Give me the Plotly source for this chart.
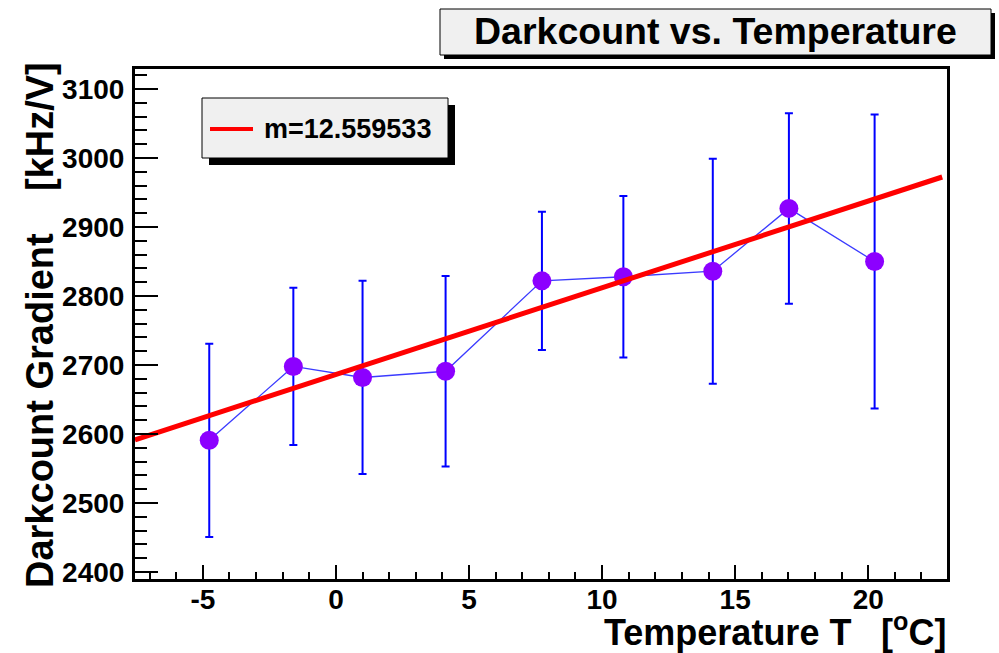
import plotly.graph_objects as go
import numpy as np

# ---------------- data ----------------
temperature = [-4.76, -1.60, 1.00, 4.12, 7.74, 10.80, 14.16, 17.02, 20.24]
gradient = [2591, 2698, 2682, 2691, 2822, 2828, 2836, 2927, 2850]
gradient_err = [140, 114, 140, 138, 100, 117, 163, 138, 213]

fit_slope = 12.559533
fit_intercept = 2686.4
fit_x_range = [-7.55, 22.78]

x_tick_vals = [-5, 0, 5, 10, 15, 20]
x_tick_text = ["-5", "0", "5", "10", "15", "20"]
y_tick_vals = [2400, 2500, 2600, 2700, 2800, 2900, 3000, 3100]
y_tick_text = ["2400", "2500", "2600", "2700", "2800", "2900", "3000", "3100"]

title_text = "Darkcount vs. Temperature"
legend_text = "m=12.559533"
x_title_main = "Temperature T"
x_title_unit = "[<sup>o</sup>C]"
y_title = "Darkcount Gradient\u00a0\u00a0\u00a0\u00a0[kHz/V]"

# ---------------- layout geometry (pixels) ----------------
W, H = 999, 653
L, R, T, B = 135, 947, 69, 579


def px(x):
    return (x - L) / (R - L)


def py(y):
    return (B - y) / (B - T)


FONT = "Liberation Sans, Arial, Helvetica, sans-serif"

fit_x = np.linspace(fit_x_range[0], fit_x_range[1], 50)
fit_y = fit_intercept + fit_slope * fit_x

fig = go.Figure()

fig.add_trace(go.Scatter(
    x=temperature, y=gradient,
    mode="lines+markers",
    line=dict(color="#3b3bff", width=1.3),
    marker=dict(color="#8c00ff", size=19, line=dict(width=0)),
    error_y=dict(type="data", array=gradient_err, visible=True,
                 color="#0000ff", thickness=2, width=4),
    showlegend=False,
))

fig.add_trace(go.Scatter(
    x=fit_x, y=fit_y, mode="lines",
    line=dict(color="#ff0000", width=5),
    showlegend=False,
))

shapes = []
# title box with shadow
shapes.append(dict(type="rect", xref="paper", yref="paper",
                   x0=px(444), x1=px(995), y0=py(59), y1=py(13),
                   fillcolor="black", line=dict(width=0)))
shapes.append(dict(type="rect", xref="paper", yref="paper",
                   x0=px(440), x1=px(991), y0=py(55), y1=py(9),
                   fillcolor="#f0f0f0", line=dict(color="black", width=1)))
# legend box with shadow
shapes.append(dict(type="rect", xref="paper", yref="paper",
                   x0=px(209), x1=px(455), y0=py(165), y1=py(105),
                   fillcolor="black", line=dict(width=0)))
shapes.append(dict(type="rect", xref="paper", yref="paper",
                   x0=px(202), x1=px(448), y0=py(158), y1=py(98),
                   fillcolor="#f0f0f0", line=dict(color="black", width=1)))
shapes.append(dict(type="line", xref="paper", yref="paper",
                   x0=px(210), x1=px(253), y0=py(129), y1=py(129),
                   line=dict(color="#ff0000", width=4)))

annotations = [
    dict(text=title_text, xref="paper", yref="paper", x=px(715), y=py(31),
         xanchor="center", yanchor="middle", showarrow=False,
         font=dict(family=FONT, size=37.5, color="black", weight="bold")),
    dict(text=legend_text, xref="paper", yref="paper", x=px(262), y=py(129),
         xanchor="left", yanchor="middle", showarrow=False,
         font=dict(family=FONT, size=27, color="black", weight="bold")),
    dict(text=x_title_main, xref="paper", yref="paper", x=px(853), y=py(655),
         xanchor="right", yanchor="bottom", showarrow=False,
         font=dict(family=FONT, size=36, color="black", weight="bold")),
    dict(text=x_title_unit, xref="paper", yref="paper", x=px(948), y=py(655),
         xanchor="right", yanchor="bottom", showarrow=False,
         font=dict(family=FONT, size=36, color="black", weight="bold")),
    dict(text=y_title, xref="paper", yref="paper", x=px(40), y=py(60),
         xanchor="center", yanchor="top", showarrow=False, textangle=-90,
         font=dict(family=FONT, size=38, color="black", weight="bold")),
]

fig.update_layout(
    width=W, height=H,
    margin=dict(l=L, r=W - R, t=T, b=H - B, pad=0),
    paper_bgcolor="white", plot_bgcolor="white",
    shapes=shapes, annotations=annotations,
    showlegend=False,
)

fig.update_xaxes(
    range=[-7.55, 22.96], showgrid=False, zeroline=False,
    showline=True, mirror=True, linecolor="black", linewidth=3,
    tickmode="array", tickvals=x_tick_vals, ticktext=x_tick_text,
    ticks="inside", ticklen=14, tickwidth=1.5, tickcolor="black",
    minor=dict(ticks="inside", ticklen=7, tickwidth=1.5, tickcolor="black",
               dtick=1, tick0=0, showgrid=False),
    tickfont=dict(family=FONT, size=28, color="black", weight="bold"),
    ticklabelstandoff=-7,
)
fig.update_yaxes(
    range=[2390, 3129], showgrid=False, zeroline=False,
    showline=True, mirror=True, linecolor="black", linewidth=3,
    tickmode="array", tickvals=y_tick_vals, ticktext=y_tick_text,
    ticks="inside", ticklen=23, tickwidth=1.5, tickcolor="black",
    minor=dict(ticks="inside", ticklen=12, tickwidth=1.5, tickcolor="black",
               dtick=20, tick0=0, showgrid=False),
    tickfont=dict(family=FONT, size=28, color="black", weight="bold"),
    ticklabelstandoff=2,
)

fig.write_html("out.html")
